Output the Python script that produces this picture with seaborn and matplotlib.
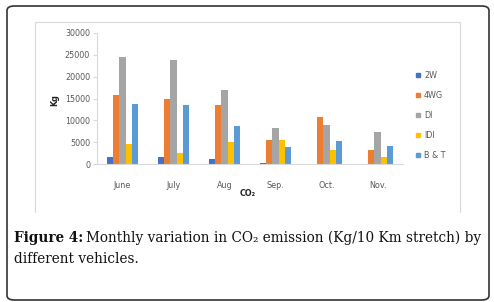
import matplotlib
matplotlib.use("Agg")
import matplotlib.pyplot as plt
import seaborn as sns
import pandas as pd
from matplotlib.patches import FancyBboxPatch
from matplotlib.lines import Line2D

months = ["June", "July", "Aug", "Sep.", "Oct.", "Nov."]
vehicles = ["2W", "4WG", "DI", "IDI", "B & T"]
v_2w = [1600, 1500, 1250, 300, 0, 0]
v_4wg = [15700, 15000, 13600, 5600, 10700, 3300]
v_di = [24600, 23900, 17000, 8300, 9000, 7400]
v_idi = [4500, 2600, 5000, 5500, 3300, 1600]
v_bt = [13700, 13400, 8600, 3900, 5200, 4200]
yticks = [0, 5000, 10000, 15000, 20000, 25000, 30000]
colors = ["#4472C4", "#ED7D31", "#A5A5A5", "#FFC000", "#5B9BD5"]

rows = []
for name, vals in zip(vehicles, [v_2w, v_4wg, v_di, v_idi, v_bt]):
    for m, v in zip(months, vals):
        rows.append({"month": m, "vehicle": name, "value": v})
df = pd.DataFrame(rows)

sns.set_theme(style="white")
plt.rcParams["font.family"] = ["DejaVu Sans"]

W, H = 494, 302
fig = plt.figure(figsize=(W / 100, H / 100), dpi=100)

def px(x0, y0, x1, y1):
    return [x0 / W, 1 - y1 / H, (x1 - x0) / W, (y1 - y0) / H]

ax = fig.add_axes(px(97, 33, 403, 164))
sns.barplot(data=df, x="month", y="value", hue="vehicle", palette=colors,
            width=0.62, ax=ax, legend=False, saturation=1,
            linewidth=0, edgecolor="none")
ax.set_ylim(0, 30000)
ax.set_yticks(yticks)
ax.set_yticklabels([str(t) for t in yticks])
ax.set_xlim(-0.5, 5.5)
ax.set_xlabel("")
ax.set_ylabel("")
for s in ["top", "right"]:
    ax.spines[s].set_visible(False)
ax.spines["left"].set_color("#D9D9D9")
ax.spines["bottom"].set_color("#D9D9D9")
ax.spines["left"].set_linewidth(0.8)
ax.spines["bottom"].set_linewidth(0.8)
ax.tick_params(axis="y", which="both", left=True, length=3, width=0.8,
               color="#D9D9D9", labelsize=5.8, labelcolor="#595959", pad=2)
ax.tick_params(axis="x", which="both", bottom=False, labelsize=5.8,
               labelcolor="#595959", pad=6)

fig.text(55 / W, 1 - 100 / H, "Kg", rotation=90, fontsize=5.8,
         fontweight="bold", ha="center", va="center", color="#222222")
fig.text(248 / W, 1 - 194 / H, "CO\u2082", fontsize=5.8,
         fontweight="bold", ha="center", va="center", color="#222222")

# legend
handles = [Line2D([0], [0], marker="s", linestyle="none", markersize=3.5,
                  markerfacecolor=c, markeredgecolor=c) for c in colors]
leg = fig.legend(handles, vehicles, loc="upper left",
                 bbox_to_anchor=(416 / W, 1 - 71 / H), frameon=False,
                 fontsize=5.8, labelspacing=1.35, handlelength=0.6,
                 handletextpad=0.4, borderpad=0, borderaxespad=0)
for t in leg.get_texts():
    t.set_color("#595959")

# inner chart frame
fc = "#D9D9D9"
fig.add_artist(Line2D([35 / W, 35 / W], [1 - 212 / H, 1 - 22 / H], color=fc, lw=0.8))
fig.add_artist(Line2D([35 / W, 460 / W], [1 - 22 / H, 1 - 22 / H], color=fc, lw=0.8))
fig.add_artist(Line2D([460 / W, 460 / W], [1 - 212 / H, 1 - 22 / H], color=fc, lw=0.8))

# outer rounded frame
box = FancyBboxPatch((7 / W, 2 / H), 482 / W, 294 / H,
                     boxstyle="round,pad=0,rounding_size=0.015",
                     transform=fig.transFigure, fill=False,
                     edgecolor="#333333", lw=1.2)
fig.add_artist(box)

# caption
serif = ["DejaVu Serif"]
cap_fs = 9.8
t1 = fig.text(14 / W, 1 - 238 / H, "Figure 4:", fontsize=cap_fs,
              fontweight="bold", family=serif, ha="left", va="center",
              color="#111111")
fig.canvas.draw()
r = fig.canvas.get_renderer()
bb = t1.get_window_extent(r)
fig.text((bb.x1 + 3) / W, 1 - 238 / H,
         "Monthly variation in CO\u2082 emission (Kg/10 Km stretch) by",
         fontsize=cap_fs, family=serif, ha="left", va="center", color="#111111")
fig.text(14 / W, 1 - 259 / H, "different vehicles.", fontsize=cap_fs,
         family=serif, ha="left", va="center", color="#111111")

fig.savefig("out.png", dpi=100)
